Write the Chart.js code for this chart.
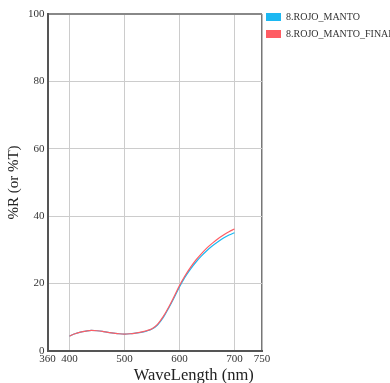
<html lang="en">
  <head>
    <meta charset="UTF-8" />
    <title>Reflectance</title>
    <script src="https://cdn.jsdelivr.net/npm/chart.js"></script>
    <style>
      html, body { margin: 0; padding: 0; background: #fff; }
      #wrap { width: 390px; height: 383px; }
    </style>
  </head>
  <body>
    <div id="wrap"><canvas id="spectrum"></canvas></div>
    <script>
      const waveLength = [400, 410, 420, 430, 440, 450, 460, 470, 480, 490, 500, 510, 520, 530, 540, 550, 560, 570, 580, 590, 600, 610, 620, 630, 640, 650, 660, 670, 680, 690, 700];
      const rojoManto = [4.4, 5.1, 5.6, 5.9, 6.1, 6.0, 5.8, 5.5, 5.3, 5.1, 5.0, 5.1, 5.3, 5.5, 5.9, 6.5, 7.7, 9.8, 12.6, 15.7, 19.0, 21.9, 24.3, 26.4, 28.2, 29.8, 31.2, 32.4, 33.5, 34.4, 35.1];
      const rojoMantoFinal = [4.4, 5.1, 5.6, 5.9, 6.1, 6.0, 5.8, 5.5, 5.3, 5.1, 5.0, 5.1, 5.3, 5.6, 6.0, 6.6, 7.9, 10.1, 12.9, 16.1, 19.4, 22.3, 24.8, 27.0, 28.9, 30.6, 32.0, 33.3, 34.4, 35.4, 36.2];
      const xTicks = [360, 400, 500, 600, 700, 750];
      const yTicks = [0, 20, 40, 60, 80, 100];

      const serif = "'Liberation Serif', 'DejaVu Serif', serif";

      // legend drawn by hand so it can run off the right edge like the original
      const sideLegend = {
        id: "sideLegend",
        afterDraw(chart) {
          const ctx = chart.ctx;
          ctx.save();
          ctx.font = "10px " + serif;
          ctx.textBaseline = "middle";
          chart.data.datasets.forEach((ds, i) => {
            const y = 13 + i * 17;
            ctx.fillStyle = ds.borderColor;
            ctx.fillRect(266, y, 15, 8);
            ctx.fillStyle = "#333";
            ctx.fillText(ds.label, 286, y + 4.5);
          });
          ctx.restore();
        },
      };

      const toPoints = (vals) => vals.map((v, i) => ({ x: waveLength[i], y: v }));

      new Chart(document.getElementById("spectrum"), {
        type: "line",
        data: {
          datasets: [
            {
              label: "8.ROJO_MANTO",
              data: toPoints(rojoManto),
              borderColor: "#1cb8f2",
              borderWidth: 1.2,
              pointRadius: 0,
              cubicInterpolationMode: "monotone",
              order: 1,
            },
            {
              label: "8.ROJO_MANTO_FINAL",
              data: toPoints(rojoMantoFinal),
              borderColor: "#ff5c63",
              borderWidth: 1.2,
              pointRadius: 0,
              cubicInterpolationMode: "monotone",
              order: 0,
            },
          ],
        },
        options: {
          responsive: true,
          maintainAspectRatio: false,
          animation: false,
          layout: { padding: { top: 14, right: 128, left: 0, bottom: -1 } },
          plugins: {
            legend: { display: false },
            tooltip: { enabled: false },
          },
          scales: {
            x: {
              type: "linear",
              min: 360,
              max: 750,
              afterBuildTicks: (axis) => {
                axis.ticks = xTicks.map((v) => ({ value: v }));
              },
              border: { color: "#555", width: 2 },
              grid: {
                color: (c) => (c.tick && c.tick.value === 750 ? "#777" : "#ccc"),
                lineWidth: (c) => (c.tick && c.tick.value === 750 ? 1.5 : 1),
                drawTicks: false,
              },
              ticks: {
                color: "#333",
                padding: 2,
                maxRotation: 0,
                autoSkip: false,
                font: { family: serif, size: 11 },
              },
              title: {
                display: true,
                text: "WaveLength (nm)  ",
                align: "end",
                color: "#222",
                padding: { top: 0, bottom: 1 },
                font: { family: serif, size: 16.5, lineHeight: 0.9 },
              },
            },
            y: {
              min: 0,
              max: 100,
              afterBuildTicks: (axis) => {
                axis.ticks = yTicks.map((v) => ({ value: v }));
              },
              border: { color: "#555", width: 2 },
              grid: {
                color: (c) => (c.tick && c.tick.value === 100 ? "#888" : "#ccc"),
                lineWidth: (c) => (c.tick && c.tick.value === 100 ? 2 : 1),
                drawTicks: false,
              },
              ticks: {
                color: "#333",
                padding: 3,
                font: { family: serif, size: 11 },
              },
              title: {
                display: true,
                text: "%R (or %T)",
                color: "#222",
                padding: { top: 5, bottom: 2 },
                font: { family: serif, size: 15 },
              },
            },
          },
        },
        plugins: [sideLegend],
      });
    </script>
  </body>
</html>
